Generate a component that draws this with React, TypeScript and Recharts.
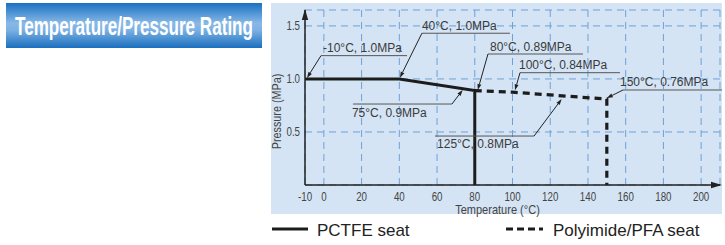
import React from 'react';
import { LineChart, Line, XAxis, YAxis, CartesianGrid, ReferenceDot, Label } from 'recharts';

const xTicks = [-10, 0, 20, 40, 60, 80, 100, 120, 140, 160, 180, 200];
const yTicks = [0.5, 1.0, 1.5];

const pctfeName = 'PCTFE seat';
const pctfeTemp = [-10, 40, 80, 80];
const pctfeMpa = [1.0, 1.0, 0.89, 0];

const pfaName = 'Polyimide/PFA seat';
const pfaTemp = [80, 100, 150, 150];
const pfaMpa = [0.89, 0.875, 0.81, 0];

const noteText = ['-10°C, 1.0MPa', '40°C, 1.0MPa', '80°C, 0.89MPa', '100°C, 0.84MPa', '150°C, 0.76MPa', '75°C, 0.9MPa', '125°C, 0.8MPa'];
const noteTemp = [-10, 40, 80, 100, 150, 75, 125];
const noteMpa = [1.0, 1.0, 0.89, 0.875, 0.81, 0.904, 0.8425];

const pctfeData = pctfeTemp.map((t, i) => ({ t, p: pctfeMpa[i] }));
const pfaData = pfaTemp.map((t, i) => ({ t, p: pfaMpa[i] }));

// callout geometry in px, relative to the annotated point
const noteLayout = [
  { tip: [2, -1], elbow: [16, -23.3], ul: 86, text: [2, -3.5] },
  { tip: [0.6, -1.3], elbow: [22.6, -45.7], ul: 88, text: [0, -3.3] },
  { tip: [3, -0.6], elbow: [13.2, -36.6], ul: 95, text: [2, -3.5] },
  { tip: [2.5, -2], elbow: [7.5, -19.5], ul: 100, text: [-1, -3.5] },
  { tip: [0, -1], elbow: [16.2, -9.1], ul: 99, text: [-3, -4] },
  { tip: [-2.7, 0.9], elbow: [-13.4, 14.9], ul: -99, text: [-100, 13] },
  { tip: [2, 3.4], elbow: [-25.6, 40.4], ul: -99, text: [-97, 12.3] },
];

const font = '"Liberation Sans", Arial, sans-serif';

function Callout({ cx, cy, idx }: { cx: number; cy: number; idx: number }) {
  const L = noteLayout[idx];
  const tx = cx + L.tip[0];
  const ty = cy + L.tip[1];
  const ex = cx + L.elbow[0];
  const ey = cy + L.elbow[1];
  const a = Math.atan2(ty - ey, tx - ex);
  const c = Math.cos(a);
  const s = Math.sin(a);
  const bx = tx - 6 * c;
  const by = ty - 6 * s;
  const pts = `${tx},${ty} ${bx - 2 * s},${by + 2 * c} ${bx + 2 * s},${by - 2 * c}`;
  return (
    <g>
      <line x1={ex} y1={ey} x2={ex + L.ul} y2={ey} stroke="#555" strokeWidth={1} />
      <line x1={ex} y1={ey} x2={bx} y2={by} stroke="#222" strokeWidth={1} />
      <polygon points={pts} fill="#222" />
      <text x={ex + L.text[0]} y={ey + L.text[1]} fontSize={12} fontFamily={font} fill="#3a3a3a">
        {noteText[idx]}
      </text>
    </g>
  );
}

// condensed tick labels
function XTick(p: any) {
  return (
    <text transform={`translate(${p.x},${p.y}) scale(0.78,1)`} textAnchor="middle" dy="0.71em"
      fontSize={12.5} fontFamily={font} fill="#444">
      {p.payload.value}
    </text>
  );
}

function YTick(p: any) {
  return (
    <text transform={`translate(${p.x},${p.y}) scale(0.78,1)`} textAnchor="end" dy="0.355em"
      fontSize={12.5} fontFamily={font} fill="#444">
      {Number(p.payload.value).toFixed(1)}
    </text>
  );
}

function Badge() {
  return (
    <svg width={270} height={52} style={{ position: 'absolute', left: 0, top: 0 }}>
      <defs>
        <linearGradient id="badge" x1="0" y1="0" x2="0" y2="1">
          <stop offset="0" stopColor="#1a70c2" />
          <stop offset="0.45" stopColor="#88b9e7" />
          <stop offset="0.6" stopColor="#7cb1e3" />
          <stop offset="1" stopColor="#1a6fbf" />
        </linearGradient>
      </defs>
      <rect x={6} y={3} width={256} height={45} fill="url(#badge)" />
      <text transform="translate(15,35) scale(0.7,1)" fontSize={26} fontWeight="bold" fontFamily={font} fill="#fff"
        textLength={340} lengthAdjust="spacingAndGlyphs">
        Temperature/Pressure Rating
      </text>
    </svg>
  );
}

function LegendRow() {
  return (
    <svg width={725} height={30} style={{ position: 'absolute', left: 0, top: 215 }}>
      <line x1={272} y1={14} x2={308} y2={14} stroke="#1c1c1c" strokeWidth={3} />
      <text x={317} y={20.5} fontSize={17} fontFamily={font} fill="#222">{pctfeName}</text>
      <line x1={506} y1={14} x2={543} y2={14} stroke="#1c1c1c" strokeWidth={3} strokeDasharray="7 4" />
      <text x={553} y={20.5} fontSize={17} fontFamily={font} fill="#222">{pfaName}</text>
    </svg>
  );
}

export default function App() {
  return (
    <div style={{ position: 'absolute', left: 0, top: 0, width: 725, height: 245, background: '#fff' }}>
      <Badge />
      <div style={{ position: 'absolute', left: 271, top: 3, width: 451, height: 211, background: '#d4e4f4' }} />
      <div style={{ position: 'absolute', left: 0, top: 0 }}>
        <LineChart width={725} height={245} margin={{ top: 10, right: 5, bottom: 30, left: 265 }}>
          <CartesianGrid stroke="#6fa0d8" strokeDasharray="7 5" strokeWidth={1} />
          <XAxis
            dataKey="t"
            type="number"
            domain={[-10, 210]}
            ticks={xTicks}
            height={30}
            tickLine={false}
            tickSize={4}
            tickMargin={3}
            axisLine={{ stroke: '#222', strokeWidth: 1.5 }}
            tick={<XTick />}
            interval={0}
          >
            <Label
              content={(p: any) => {
                const vb = p.viewBox || { x: 305, y: 185, width: 415, height: 30 };
                const x = vb.x + vb.width / 2 - 15;
                const y = vb.y + 28.5;
                return (
                  <text transform={`translate(${x},${y}) scale(0.92,1)`} textAnchor="middle" fontSize={12}
                    fontFamily={font} fill="#444">
                    Temperature (°C)
                  </text>
                );
              }}
            />
          </XAxis>
          <YAxis
            dataKey="p"
            type="number"
            domain={[0, 1.65]}
            ticks={yTicks}
            width={40}
            tickLine={false}
            tickSize={4}
            tickMargin={1}
            axisLine={{ stroke: '#222', strokeWidth: 1.5 }}
            tick={<YTick />}
          >
            <Label
              content={(p: any) => {
                const vb = p.viewBox || { x: 265, y: 10, width: 40, height: 175 };
                const x = vb.x + 13;
                const y = vb.y + vb.height / 2 + 14;
                return (
                  <text transform={`translate(${x},${y}) rotate(-90) scale(0.9,1)`} textAnchor="middle"
                    fontSize={12} fontFamily={font} fill="#444" dominantBaseline="middle">
                    Pressure (MPa)
                  </text>
                );
              }}
            />
          </YAxis>
          <Line data={pfaData} dataKey="p" name={pfaName} type="linear" stroke="#1c1c1c" strokeWidth={3.2}
            strokeDasharray="7 5" dot={false} activeDot={false} isAnimationActive={false} />
          <Line data={pctfeData} dataKey="p" name={pctfeName} type="linear" stroke="#1c1c1c" strokeWidth={3}
            dot={false} activeDot={false} isAnimationActive={false} />
          <ReferenceDot x={-10} y={1.65} ifOverflow="visible"
            shape={(p: any) => (
              <polygon points={`${p.cx},${p.cy - 1} ${p.cx - 3.2},${p.cy + 10} ${p.cx + 3.2},${p.cy + 10}`} fill="#222" />
            )} />
          <ReferenceDot x={210} y={0} ifOverflow="visible"
            shape={(p: any) => (
              <polygon points={`${p.cx + 2},${p.cy} ${p.cx - 9},${p.cy - 3.2} ${p.cx - 9},${p.cy + 3.2}`} fill="#222" />
            )} />
          {noteText.map((_, i) => (
            <ReferenceDot key={i} x={noteTemp[i]} y={noteMpa[i]} ifOverflow="visible"
              shape={(p: any) => <Callout cx={p.cx} cy={p.cy} idx={i} />} />
          ))}
        </LineChart>
      </div>
      <LegendRow />
    </div>
  );
}
